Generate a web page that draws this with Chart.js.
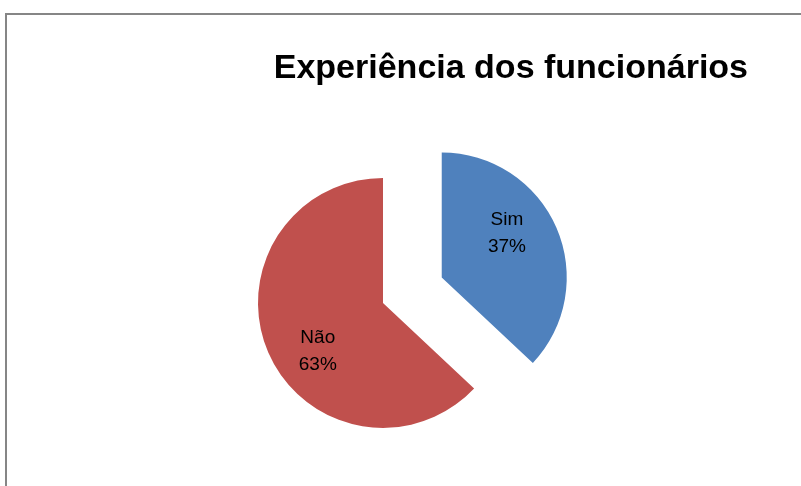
<!DOCTYPE html>
<html>
<head>
<meta charset="utf-8">
<script src="https://cdn.jsdelivr.net/npm/chart.js@4"></script>
<style>
  html, body { margin: 0; padding: 0; background: #fff; overflow: hidden; width: 801px; height: 486px; }
  #frame { position: absolute; left: 5px; top: 13px; width: 1008px; height: 500px; border: 2px solid #868686; background: #fff; }
  canvas { display: block; }
</style>
</head>
<body>
<div id="frame"><canvas id="c" width="1008" height="500"></canvas></div>
<script>
const titleText = "Experiência dos funcionários";
const categories = ["Sim", "Não"];
const values = [37, 63];
const colors = ["#4F81BD", "#C0504D"];

// draws each arc element through Chart.js, pulled out along its mid-angle
const explodePlugin = {
  id: 'explode',
  beforeDatasetDraw(chart, args) {
    const ctx = chart.ctx;
    const ds = chart.data.datasets[args.index];
    const ex = ds.explode || [];
    args.meta.data.forEach((arc, i) => {
      const p = arc.getProps(['startAngle', 'endAngle'], true);
      const mid = (p.startAngle + p.endAngle) / 2;
      const e = ex[i] || 0;
      ctx.save();
      ctx.translate(Math.cos(mid) * e, Math.sin(mid) * e);
      arc.draw(ctx, chart.chartArea);
      ctx.restore();
    });
    return false;
  }
};

const labelPlugin = {
  id: 'sliceLabels',
  afterDatasetsDraw(chart) {
    const ctx = chart.ctx;
    const meta = chart.getDatasetMeta(0);
    const ex = chart.data.datasets[0].explode || [];
    const total = values.reduce((a, b) => a + b, 0);
    ctx.save();
    ctx.font = '19px "Liberation Sans", Arial, sans-serif';
    ctx.fillStyle = '#000';
    ctx.textAlign = 'center';
    ctx.textBaseline = 'middle';
    meta.data.forEach((arc, i) => {
      const p = arc.getProps(['x', 'y', 'startAngle', 'endAngle', 'outerRadius'], true);
      const realMid = (p.startAngle + p.endAngle) / 2;
      const mid = realMid - 12 * Math.PI / 180;
      const e = ex[i] || 0;
      const cx = p.x + Math.cos(realMid) * e;
      const cy = p.y + Math.sin(realMid) * e;
      const r = p.outerRadius * 0.64;
      const lx = cx + Math.cos(mid) * r;
      const ly = cy + Math.sin(mid) * r + 1.5;
      const pct = Math.round(values[i] / total * 100) + '%';
      ctx.fillText(categories[i], lx, ly - 13);
      ctx.fillText(pct, lx, ly + 14);
    });
    ctx.restore();
  }
};

new Chart(document.getElementById('c'), {
  type: 'pie',
  data: {
    labels: categories,
    datasets: [{
      data: values,
      backgroundColor: colors,
      borderWidth: 0,
      offset: 0,
      hoverOffset: 0,
      explode: [64, 0]
    }]
  },
  options: {
    responsive: false,
    animation: false,
    radius: 125,
    layout: { padding: { left: 11, right: 267, top: 0, bottom: 5 } },
    plugins: {
      legend: { display: false },
      tooltip: { enabled: false },
      title: {
        display: true,
        text: titleText,
        align: 'end',
        color: '#000',
        font: { family: '"Liberation Sans", Arial, sans-serif', size: 34, weight: 'bold', lineHeight: 1.2 },
        padding: { top: 33, bottom: 7 }
      }
    }
  },
  plugins: [explodePlugin, labelPlugin]
});
</script>
</body>
</html>
